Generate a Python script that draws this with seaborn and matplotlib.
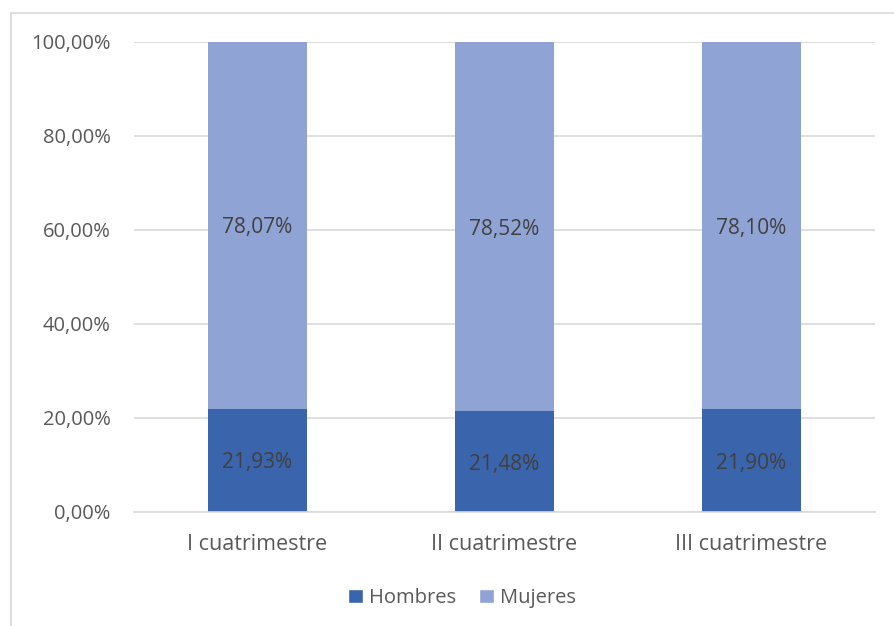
import matplotlib
matplotlib.use('Agg')
import matplotlib.pyplot as plt
import seaborn as sns
import pandas as pd
import numpy as np
from matplotlib.lines import Line2D
from matplotlib.patches import Patch
from matplotlib.ticker import FuncFormatter, FixedLocator

# data
categories = ['I cuatrimestre', 'II cuatrimestre', 'III cuatrimestre']
hombres = [21.93, 21.48, 21.90]
mujeres = [78.07, 78.52, 78.10]

COLOR_H = '#3A64AC'
COLOR_M = '#8FA4D4'
TEXT = '#595959'
GRID = '#D9D9D9'

sns.set_theme(style='white')
plt.rcParams['font.family'] = ['Open Sans', 'DejaVu Sans']

df = pd.DataFrame({'cat': categories, 'hombres': hombres, 'mujeres': mujeres})
df['total'] = df['hombres'] + df['mujeres']

fig = plt.figure(figsize=(8.94, 6.26), dpi=100)
ax = fig.add_axes([134 / 894, 1 - 512 / 626, (875 - 134) / 894, (512 - 42) / 626])

sns.barplot(data=df, x='cat', y='total', color=COLOR_M, width=0.4, ax=ax,
            saturation=1, edgecolor='none', zorder=2)
sns.barplot(data=df, x='cat', y='hombres', color=COLOR_H, width=0.4, ax=ax,
            saturation=1, edgecolor='none', zorder=2)

def fmt(v):
    return f'{v:.2f}'.replace('.', ',') + '%'

for i, (h, m) in enumerate(zip(hombres, mujeres)):
    ax.text(i, h / 2, fmt(h), ha='center', va='center_baseline', color='#404040', fontsize=15)
    ax.text(i, h + m / 2, fmt(m), ha='center', va='center_baseline', color='#404040', fontsize=15)

ax.set_xlim(-0.5, 2.5)
ax.set_ylim(0, 100)
ax.set_yticks(np.arange(0, 101, 20))
ax.yaxis.set_major_formatter(FuncFormatter(lambda v, p: fmt(v)))
ax.yaxis.grid(True, color=GRID, linewidth=1.2, zorder=0)
ax.set_axisbelow(True)
ax.set_xlabel('')
ax.set_ylabel('')

for s in ['top', 'right', 'left']:
    ax.spines[s].set_visible(False)
ax.spines['bottom'].set_color(GRID)
ax.spines['bottom'].set_linewidth(1.2)

ax.tick_params(axis='y', length=0, labelsize=14.5, labelcolor=TEXT, pad=17)
ax.tick_params(axis='x', length=0, labelsize=15.5, labelcolor=TEXT, pad=16)
ax.xaxis.set_minor_locator(FixedLocator([-0.5, 0.5, 1.5, 2.5]))
ax.tick_params(axis='x', which='minor', length=5, color=GRID, width=1.2, direction='out')

handles = [Patch(facecolor=COLOR_H, label='Hombres'), Patch(facecolor=COLOR_M, label='Mujeres')]
fig.legend(handles=handles, loc='center', bbox_to_anchor=(462 / 894, 1 - 598 / 626), ncol=2,
           frameon=False, fontsize=14.5, labelcolor=TEXT, handlelength=0.75, handleheight=0.75,
           columnspacing=1.1, handletextpad=0.3)

# chart-area border (partially cropped)
fig.add_artist(Line2D([10.5 / 894, 10.5 / 894], [0, 1 - 13 / 626], color='#D9D9D9', linewidth=1.2))
fig.add_artist(Line2D([10.5 / 894, 1], [1 - 13 / 626, 1 - 13 / 626], color='#D9D9D9', linewidth=1.2))

fig.savefig('out.png', dpi=100, facecolor='white')
